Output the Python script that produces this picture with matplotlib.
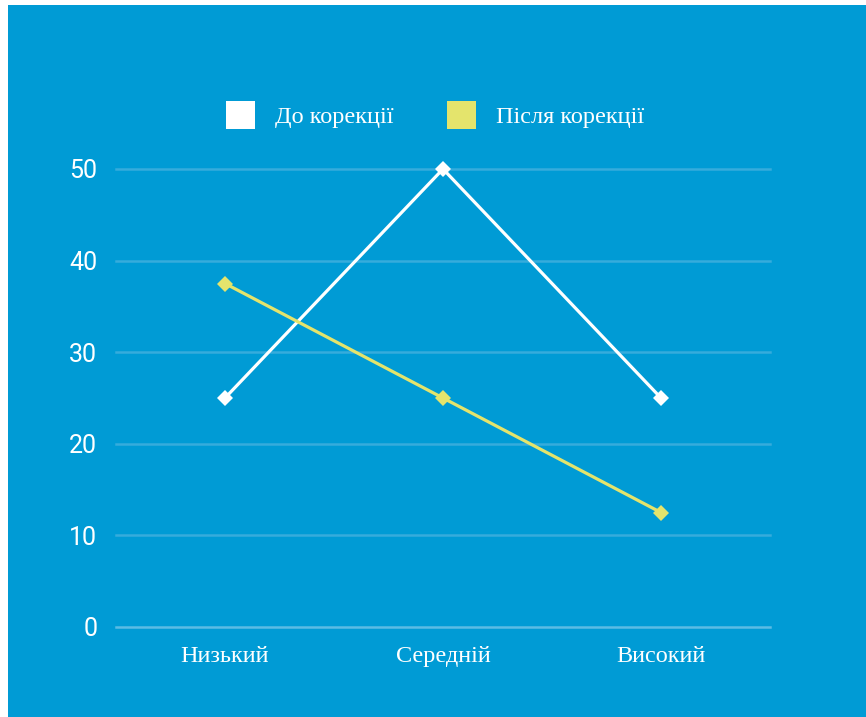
import matplotlib
matplotlib.use('Agg')
import matplotlib.pyplot as plt
from matplotlib.patches import Patch, Rectangle

categories = ['Низький', 'Середній', 'Високий']
before = [25, 50, 25]
after = [37.5, 25, 12.5]
series_names = ['До корекції', 'Після корекції']
yticks = [0, 10, 20, 30, 40, 50]

bg = '#009BD5'
white = '#FFFFFF'
yellow = '#E4E46C'
grid_col = '#36ACDC'

fig = plt.figure(figsize=(8.66, 7.17), dpi=100)
fig.patch.set_facecolor('white')
fig.patches.append(Rectangle((8 / 866, 0), 1, 1 - 5 / 717, transform=fig.transFigure,
                             facecolor=bg, edgecolor='none', zorder=-10))

ax = fig.add_axes([116 / 866, 90 / 717, 654 / 866, 458 / 717])
ax.set_facecolor('none')
for s in ax.spines.values():
    s.set_visible(False)

x = list(range(len(categories)))
ax.set_xlim(-0.5, len(categories) - 0.5)
ax.set_ylim(0, 50)

for t in yticks:
    ax.axhline(t, color='#5BBCE4' if t == 0 else grid_col, lw=1.8, zorder=1, clip_on=False)

ax.plot(x, before, color=white, lw=2.3, marker='D', ms=7.8, mew=0, zorder=3, clip_on=False)
ax.plot(x, after, color=yellow, lw=2.3, marker='D', ms=7.8, mew=0, zorder=3, clip_on=False)

ax.set_yticks(yticks)
ax.set_yticklabels([str(t) for t in yticks], fontsize=18, color=white, family='Roboto')
ax.set_xticks(x)
ax.set_xticklabels(categories, fontsize=17.5, color=white, family='Liberation Serif')
ax.tick_params(axis='y', length=0, pad=13.5)
ax.tick_params(axis='x', length=0, pad=14)

handles = [Patch(facecolor=white, edgecolor='none'), Patch(facecolor=yellow, edgecolor='none')]
leg = fig.legend(handles, series_names, loc='center', bbox_to_anchor=(435 / 866, 1 - 115 / 717),
                 ncol=2, frameon=False, prop={'family': 'Liberation Serif', 'size': 17.5},
                 handlelength=1.2, handleheight=1.4, handletextpad=0.8, columnspacing=2.2,
                 borderpad=0)
for t in leg.get_texts():
    t.set_color(white)

fig.savefig('out.png', dpi=100)
